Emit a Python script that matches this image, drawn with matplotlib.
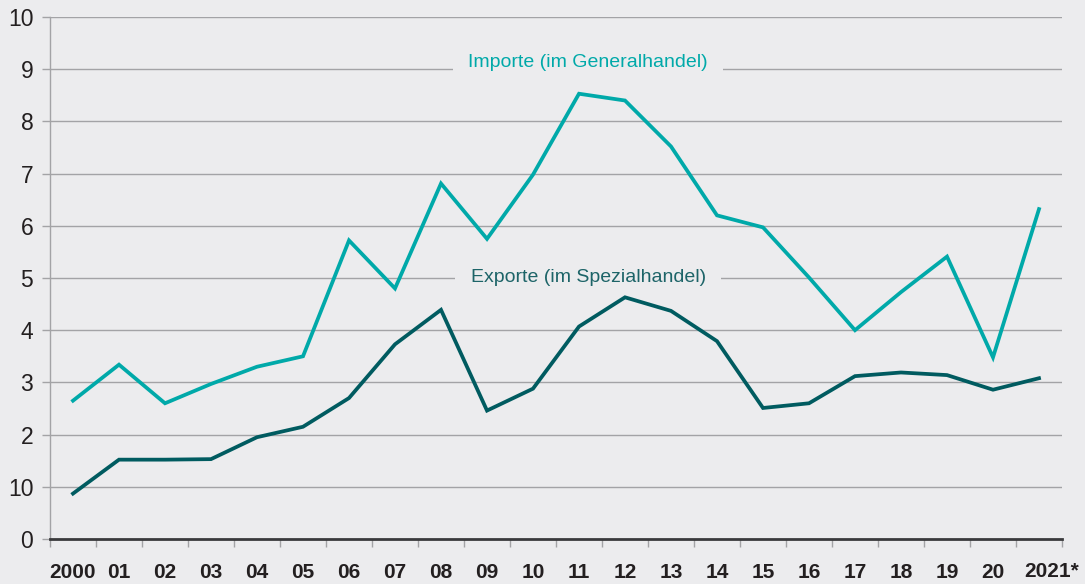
import matplotlib
matplotlib.use("Agg")
import matplotlib.pyplot as plt

# Jahre (Kategorien) und Werte
years = ["2000", "01", "02", "03", "04", "05", "06", "07", "08", "09", "10",
         "11", "12", "13", "14", "15", "16", "17", "18", "19", "20", "2021*"]
importe = [2.65, 3.34, 2.60, 2.97, 3.30, 3.50, 5.72, 4.80, 6.81, 5.75, 6.98,
           8.53, 8.40, 7.52, 6.20, 5.97, 5.01, 4.00, 4.73, 5.41, 3.48, 6.32]
exporte = [0.87, 1.52, 1.52, 1.53, 1.95, 2.15, 2.70, 3.73, 4.39, 2.46, 2.88,
           4.07, 4.63, 4.37, 3.79, 2.51, 2.60, 3.12, 3.19, 3.14, 2.86, 3.08]
y_ticks = [0, 1, 2, 3, 4, 5, 6, 7, 8, 9, 10]
y_labels = ["0", "10", "2", "3", "4", "5", "6", "7", "8", "9", "10"]

bg = "#ececee"
c_imp = "#00a9a9"
c_exp = "#005b60"
grid_c = "#a3a3a6"
txt_c = "#231f20"

plt.rcParams['font.family'] = ['Liberation Sans', 'DejaVu Sans']

fig = plt.figure(figsize=(10.85, 5.84), dpi=100, facecolor=bg)
ax = fig.add_axes([50 / 1085, 1 - 539 / 584, 1012 / 1085, 522 / 584])
ax.set_facecolor(bg)

x = list(range(len(years)))
ax.plot(x, importe, color=c_imp, lw=2.7, zorder=4, solid_joinstyle='miter')
ax.plot(x, exporte, color=c_exp, lw=2.7, zorder=4, solid_joinstyle='miter')

ax.set_xlim(-0.5, len(years) - 0.5)
ax.set_ylim(0, 10)

# horizontale Gitterlinien
for v in y_ticks[1:]:
    ax.axhline(v, color=grid_c, lw=1.0, zorder=1)

ax.set_yticks(y_ticks)
ax.set_yticklabels(y_labels)
ax.tick_params(axis='y', direction='out', length=6, width=1, color=grid_c,
               labelsize=16.5, labelcolor=txt_c, pad=6)

# Beschriftungen mittig, Striche an den Grenzen
ax.set_xticks(x[:-1])
ax.set_xticklabels(years[:-1], fontweight='bold')
ax.set_xticks([i - 0.5 for i in range(len(years) + 1)], minor=True)
ax.tick_params(axis='x', which='major', length=0, labelsize=15,
               labelcolor=txt_c, pad=17)
ax.tick_params(axis='x', which='minor', direction='out', length=6, width=1,
               color=grid_c)
# letzte Beschriftung etwas nach rechts versetzt
ax.text(x[-1] + 0.28, -0.62, years[-1], ha='center', va='center',
        fontsize=15, fontweight='bold', color=txt_c, clip_on=False)

for s in ['top', 'right']:
    ax.spines[s].set_visible(False)
ax.spines['left'].set_color(grid_c)
ax.spines['left'].set_linewidth(1)
ax.spines['bottom'].set_color("#3a3a3c")
ax.spines['bottom'].set_linewidth(2)
ax.spines['bottom'].set_zorder(5)

ax.text(11.2, 9.13, "Importe (im Generalhandel)", color=c_imp, fontsize=14,
        ha='center', va='center', zorder=3,
        bbox=dict(facecolor=bg, edgecolor='none', pad=11))
ax.text(11.2, 5.0, "Exporte (im Spezialhandel)", color="#1d6468", fontsize=14,
        ha='center', va='center', zorder=3,
        bbox=dict(facecolor=bg, edgecolor='none', pad=11))

fig.savefig("out.png", dpi=100, facecolor=bg)
